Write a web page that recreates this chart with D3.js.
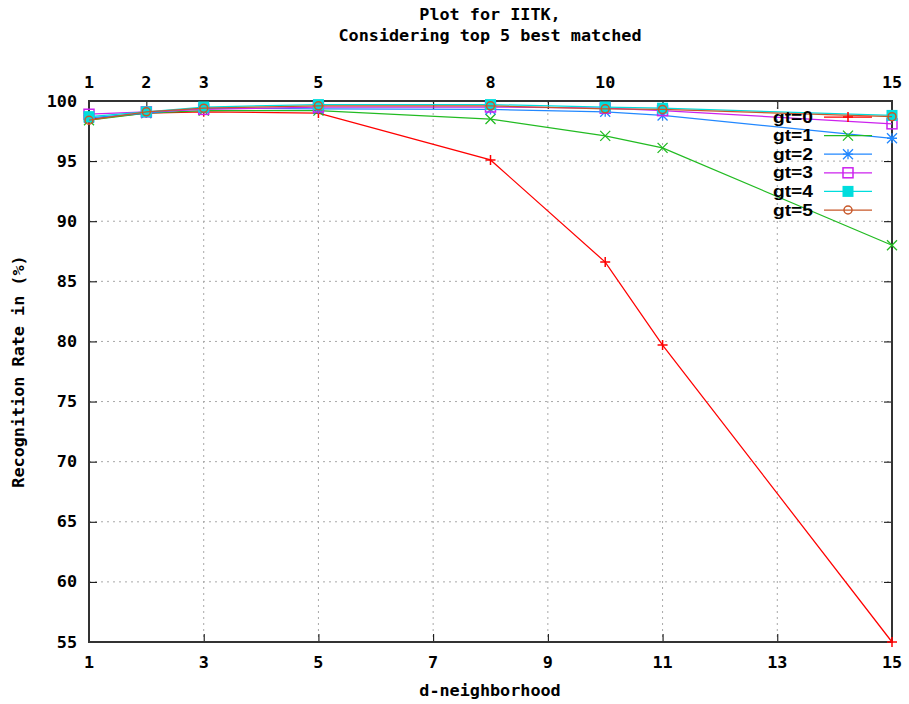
<!DOCTYPE html>
<html>
<head>
<meta charset="utf-8">
<script src="https://cdn.jsdelivr.net/npm/d3@7"></script>
<style>
  body { margin: 0; background: #fff; }
  svg { display: block; }
  .mono { font-family: "DejaVu Sans Mono", "Liberation Mono", monospace; font-weight: bold; font-size: 16px; fill: #000; }
  .key { font-family: "Liberation Sans", Arial, sans-serif; font-weight: bold; font-size: 16px; fill: #000; }
</style>
</head>
<body>
<script>
// d-neighborhood values and recognition rates (%) for each gt setting
const neighborhoods = [1, 2, 3, 5, 8, 10, 11, 15];
const gt0 = [98.5, 99.0, 99.1, 99.0, 95.1, 86.6, 79.7, 55.0];
const gt1 = [98.4, 99.0, 99.2, 99.2, 98.5, 97.1, 96.1, 88.0];
const gt2 = [98.6, 99.0, 99.4, 99.35, 99.3, 99.1, 98.8, 96.9];
const gt3 = [98.9, 99.1, 99.3, 99.5, 99.5, 99.4, 99.2, 98.1];
const gt4 = [98.7, 99.1, 99.5, 99.7, 99.7, 99.5, 99.4, 98.8];
const gt5 = [98.4, 99.1, 99.4, 99.6, 99.6, 99.35, 99.3, 98.7];

const seriesNames = ["gt=0", "gt=1", "gt=2", "gt=3", "gt=4", "gt=5"];
const seriesColors = ["#ff0000", "#22bb22", "#2288ff", "#cc22ee", "#00dddd", "#c8582a"];
const seriesMarkers = ["plus", "cross", "star", "box", "fillbox", "circle"];

const xTicksBottom = [1, 3, 5, 7, 9, 11, 13, 15];
const xTicksTop = [1, 2, 3, 5, 8, 10, 15];
const yTicks = [55, 60, 65, 70, 75, 80, 85, 90, 95, 100];

const titleLines = ["Plot for IITK,", "Considering top 5 best matched"];
const xTitle = "d-neighborhood";
const yTitle = "Recognition Rate in (%)";

const W = 909, H = 704;
const pLeft = 89, pRight = 892, pTop = 101, pBottom = 642;

const svg = d3.select("body").append("svg").attr("width", W).attr("height", H);

const x = d3.scaleLinear().domain([1, 15]).range([pLeft, pRight]);
const y = d3.scaleLinear().domain([55, 100]).range([pBottom, pTop]);

// fixed-advance monospaced text, like the terminal font
function monoText(g, str, px, py, anchor) {
  return g.append("text").attr("class", "mono")
    .attr("x", px).attr("y", py)
    .attr("text-anchor", anchor || "middle")
    .attr("dominant-baseline", "central")
    .attr("textLength", str.length * 10.1)
    .attr("lengthAdjust", "spacingAndGlyphs")
    .text(str);
}

// grid
const grid = svg.append("g").attr("stroke", "#a8a8a8").attr("stroke-width", 1).attr("stroke-dasharray", "2,4");
xTicksBottom.filter(v => v > 1 && v < 15).forEach(v => {
  grid.append("line").attr("x1", x(v)).attr("x2", x(v)).attr("y1", pTop).attr("y2", pBottom);
});
yTicks.filter(v => v > 55 && v < 100).forEach(v => {
  grid.append("line").attr("x1", pLeft).attr("x2", pRight).attr("y1", y(v)).attr("y2", y(v));
});

// axes via d3 axis generators (inward ticks)
const tickLen = 8;
const topTickValues = Array.from(new Set(xTicksBottom.concat(xTicksTop))).sort((a, b) => a - b);
const axB = svg.append("g").attr("transform", `translate(0,${pBottom})`)
  .call(d3.axisBottom(x).tickValues(xTicksBottom).tickSize(-tickLen).tickFormat(""));
const axT = svg.append("g").attr("transform", `translate(0,${pTop})`)
  .call(d3.axisTop(x).tickValues(topTickValues).tickSize(-tickLen).tickFormat(""));
const axL = svg.append("g").attr("transform", `translate(${pLeft},0)`)
  .call(d3.axisLeft(y).tickValues(yTicks).tickSize(-tickLen).tickFormat(""));
const axR = svg.append("g").attr("transform", `translate(${pRight},0)`)
  .call(d3.axisRight(y).tickValues(yTicks).tickSize(-tickLen).tickFormat(""));
[axB, axT, axL, axR].forEach(a => {
  a.select(".domain").remove();
  a.selectAll(".tick line").attr("stroke", "#000").attr("stroke-width", 1);
});

// border
svg.append("rect").attr("x", pLeft).attr("y", pTop).attr("width", pRight - pLeft).attr("height", pBottom - pTop)
  .attr("fill", "none").attr("stroke", "#333").attr("stroke-width", 2);

// tick labels
const labels = svg.append("g");
xTicksBottom.forEach(v => monoText(labels, String(v), x(v), 662));
xTicksTop.forEach(v => monoText(labels, String(v), x(v), 82));
yTicks.forEach(v => monoText(labels, String(v), 77, y(v), "end"));

// titles
monoText(svg, titleLines[0], 490, 14);
monoText(svg, titleLines[1], 490, 35);
monoText(svg, xTitle, 490, 690);
monoText(svg, yTitle, 0, 0).attr("transform", `translate(18,${(pTop + pBottom) / 2}) rotate(-90)`);

// marker drawing
function drawMarker(g, type, cx, cy, color) {
  const s = 5;
  if (type === "plus") {
    g.append("path").attr("d", `M${cx - s},${cy}H${cx + s}M${cx},${cy - s}V${cy + s}`)
      .attr("stroke", color).attr("stroke-width", 1.5).attr("fill", "none");
  } else if (type === "cross") {
    g.append("path").attr("d", `M${cx - s},${cy - s}L${cx + s},${cy + s}M${cx - s},${cy + s}L${cx + s},${cy - s}`)
      .attr("stroke", color).attr("stroke-width", 1.3).attr("fill", "none");
  } else if (type === "star") {
    g.append("path").attr("d", `M${cx - s},${cy}H${cx + s}M${cx},${cy - s}V${cy + s}M${cx - s},${cy - s}L${cx + s},${cy + s}M${cx - s},${cy + s}L${cx + s},${cy - s}`)
      .attr("stroke", color).attr("stroke-width", 1.3).attr("fill", "none");
  } else if (type === "box") {
    g.append("rect").attr("x", cx - 5).attr("y", cy - 5).attr("width", 10).attr("height", 10)
      .attr("stroke", color).attr("stroke-width", 1.5).attr("fill", "none");
  } else if (type === "fillbox") {
    g.append("rect").attr("x", cx - 5.5).attr("y", cy - 5.5).attr("width", 11).attr("height", 11)
      .attr("fill", color);
  } else if (type === "circle") {
    g.append("circle").attr("cx", cx).attr("cy", cy).attr("r", 4)
      .attr("stroke", color).attr("stroke-width", 1.5).attr("fill", "none");
  }
}

// series
const allSeries = [gt0, gt1, gt2, gt3, gt4, gt5];
const line = d3.line().x(d => x(d[0])).y(d => y(d[1]));
const plot = svg.append("g");
allSeries.forEach((vals, i) => {
  const pts = neighborhoods.map((n, k) => [n, vals[k]]);
  const g = plot.append("g");
  g.append("path").attr("d", line(pts)).attr("fill", "none")
    .attr("stroke", seriesColors[i]).attr("stroke-width", 1.25);
  pts.forEach(p => drawMarker(g, seriesMarkers[i], x(p[0]), y(p[1]), seriesColors[i]));
});

// key
const key = svg.append("g");
seriesNames.forEach((name, i) => {
  const ky = 117 + i * 18.6;
  key.append("text").attr("class", "key").attr("x", 773).attr("y", ky)
    .attr("dominant-baseline", "central")
    .attr("textLength", 40).attr("lengthAdjust", "spacingAndGlyphs").text(name);
  key.append("line").attr("x1", 824).attr("x2", 872).attr("y1", ky).attr("y2", ky)
    .attr("stroke", seriesColors[i]).attr("stroke-width", 1.25);
  drawMarker(key, seriesMarkers[i], 848, ky, seriesColors[i]);
});
</script>
</body>
</html>
